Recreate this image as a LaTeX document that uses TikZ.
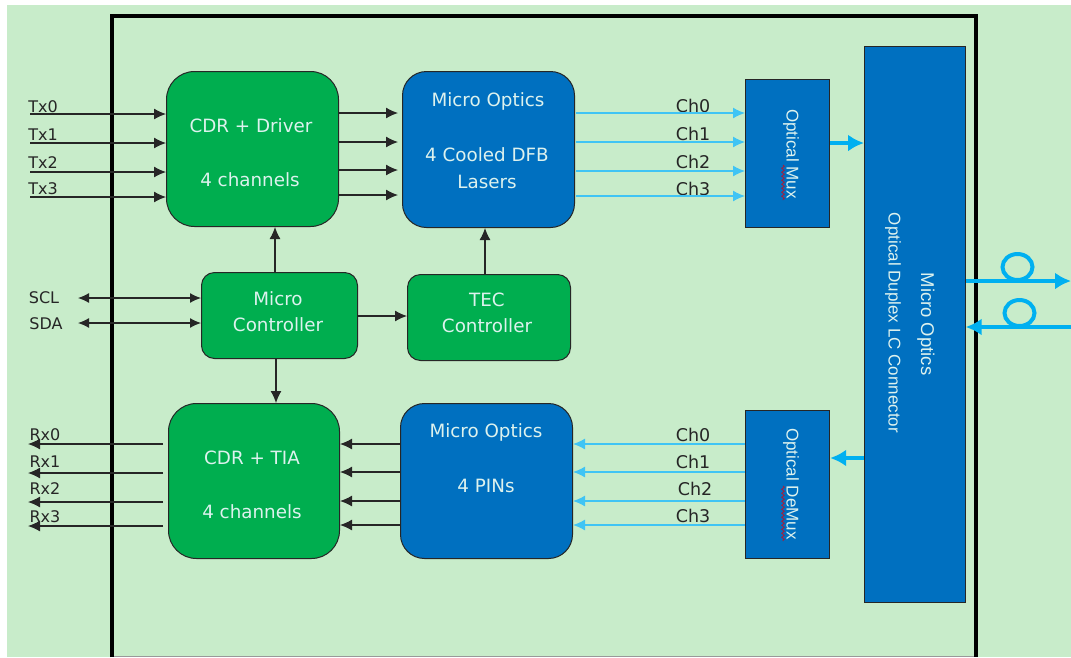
\documentclass[tikz,border=0pt]{standalone}
\usepackage{fontspec}
\setmainfont{DejaVu Sans}
\newfontfamily\rotfont{Liberation Sans}
\usetikzlibrary{arrows.meta,decorations.pathmorphing}
\definecolor{bgg}{HTML}{C8ECCA}
\definecolor{grn}{HTML}{00AE4F}
\definecolor{blu}{HTML}{0070C0}
\definecolor{cyn}{HTML}{00B0F0}
\definecolor{txtw}{HTML}{DDF2EE}
\definecolor{squig}{HTML}{A02040}
\tikzset{
 x=1pt,y=-1pt,
 block/.style={draw=black!85,line width=1pt,inner sep=0pt,anchor=north west},
 grnr/.style={block,fill=grn},
 blur/.style={block,fill=blu},
 sqbox/.style={draw=black!85,line width=1.2pt,fill=blu,inner sep=0pt,anchor=north west},
 sig/.style={draw=black!85,line width=1.2pt,-{Latex[length=12pt,width=11pt]}},
 sigb/.style={draw=black!85,line width=1.2pt,{Latex[length=11pt,width=10pt]}-{Latex[length=11pt,width=10pt]}},
 chn/.style={draw=cyn!75!white,line width=1.3pt,-{Latex[length=12pt,width=11pt]}},
 fat/.style={draw=cyn,line width=4pt,-{Latex[length=16pt,width=17pt]}},
 lab/.style={inner sep=0pt,text=black!85,font=\fontsize{16}{18}\selectfont},
 chlab/.style={inner sep=0pt,text=black!85,font=\fontsize{17.5}{20}\selectfont},
 wtxt/.style={inner sep=0pt,text=txtw,font=\fontsize{18.3}{20}\selectfont},
 rottxt/.style={rotate=-90,inner sep=0pt,text=txtw,font=\rotfont\fontsize{17}{18}\selectfont},
 wig/.style={draw=squig,line width=.9pt,decorate,decoration={snake,amplitude=1.3pt,segment length=4pt}},
 loopc/.style={draw=cyn,line width=4pt},
}
\begin{document}
\begin{tikzpicture}
\useasboundingbox (0,0) rectangle (1071,657);
\fill[white] (0,0) rectangle (1071,657);
\fill[bgg] (7,5) rectangle (1071,657);
\draw[black!40,line width=1pt] (112,656.2) -- (976,656.2);
\draw[black,line width=3.6pt] (112,657) -- (112,16) -- (976,16) -- (976,657);

% blocks
\node[grnr,rounded corners=28pt,minimum width=172pt,minimum height=155pt] (drv) at (166,71) {};
\node[blur,rounded corners=24pt,minimum width=172pt,minimum height=156pt] (mo1) at (402,71) {};
\node[sqbox,minimum width=84pt,minimum height=148pt] (mux) at (745,79) {};
\node[sqbox,minimum width=100.5pt,minimum height=556pt] (conn) at (864,46) {};
\node[grnr,rounded corners=13pt,minimum width=156pt,minimum height=86pt] (mc) at (201,272) {};
\node[grnr,rounded corners=13pt,minimum width=163pt,minimum height=86pt] (tec) at (407,274) {};
\node[grnr,rounded corners=28pt,minimum width=171pt,minimum height=155pt] (tia) at (168,403) {};
\node[blur,rounded corners=24pt,minimum width=172pt,minimum height=155pt] (mo2) at (400,403) {};
\node[sqbox,minimum width=84pt,minimum height=148pt] (dmx) at (745,410) {};

% block texts
\foreach \n/\t/\xx/\yy in {a1/CDR + Driver/251/126,a2/4 channels/250/180,
  b1/Micro Optics/488/101,b2/4 Cooled DFB/487/155,b3/Lasers/487/182,
  c1/Micro/278/299,c2/Controller/278/325,
  d1/TEC/487/300,d2/Controller/487/326,
  e1/CDR + TIA/252/458,e2/4 channels/252/512,
  f1/Micro Optics/486/432,f2/4 PINs/486/486}
  \node[wtxt] (\n) at (\xx,\yy) {\t};

% rotated texts
\node[rottxt] (tmux) at (791,154) {Optical Mux};
\node[rottxt] (tdmx) at (791,484) {Optical DeMux};
\node[rottxt,font=\rotfont\fontsize{18.5}{20}\selectfont] (tc1) at (926,324) {Micro Optics};
\node[rottxt] (tc2) at (893,323) {Optical Duplex LC Connector};
\coordinate (w1a) at (783,165); \coordinate (w1b) at (783,200);
\coordinate (w2a) at (783,486); \coordinate (w2b) at (783,541);
\draw[wig] (w1a) -- (w1b);
\draw[wig] (w2a) -- (w2b);

% labels
\foreach \n/\t/\xx/\yy in {ltx0/Tx0/43/107,ltx1/Tx1/43/135,ltx2/Tx2/43/163,ltx3/Tx3/43/189,
  lrx0/Rx0/45/435,lrx1/Rx1/45/462,lrx2/Rx2/45/489,lrx3/Rx3/45/517,
  lscl/SCL/44/298,lsda/SDA/46/324}
  \node[lab] (\n) at (\xx,\yy) {\t};
\foreach \n/\t/\xx/\yy in {cha0/Ch0/693/106,cha1/Ch1/693/134,cha2/Ch2/693/162,cha3/Ch3/693/189,
  chb0/Ch0/693/435,chb1/Ch1/693/462,chb2/Ch2/695/489,chb3/Ch3/693/516}
  \node[chlab] (\n) at (\xx,\yy) {\t};

% Tx inputs
\foreach \i/\yy in {0/114,1/143,2/172,3/197}{
  \coordinate (txs\i) at (30,\yy);
  \draw[sig] (txs\i) -- (drv.west |- txs\i);
}
% driver to lasers
\foreach \i/\yy in {0/113,1/142,2/170,3/195}{
  \coordinate (dr\i) at (338,\yy);
  \draw[sig] (dr\i) -- (398,\yy);
}
% lasers to mux
\foreach \i/\yy in {0/113,1/142,2/171,3/196}{
  \coordinate (ch\i) at (576,\yy);
  \draw[chn] (ch\i) -- (mux.west |- ch\i);
}
% demux to pins
\foreach \i/\yy in {0/444,1/472,2/501,3/525}{
  \coordinate (cr\i) at (745,\yy);
  \draw[chn] (cr\i) -- (mo2.east |- cr\i);
}
% pins to tia
\foreach \i/\yy in {0/444,1/472,2/501,3/525}{
  \coordinate (pr\i) at (400,\yy);
  \draw[sig] (pr\i) -- (tia.east |- pr\i);
}
% Rx outputs
\foreach \i/\yy in {0/444,1/473,2/502,3/526}{
  \coordinate (rxe\i) at (28,\yy);
  \coordinate (rxs\i) at (163,\yy);
  \draw[sig] (rxs\i) -- (rxe\i);
}
% control
\coordinate (sc) at (78,298); \coordinate (sd) at (78,323);
\draw[sigb] (sc) -- (mc.west |- sc);
\draw[sigb] (sd) -- (mc.west |- sd);
\coordinate (mt) at (357,316);
\draw[sig] (mc.east |- mt) -- (tec.west |- mt);
\coordinate (mu) at (275,272);
\draw[sig] (mc.north -| mu) -- (drv.south -| mu);
\coordinate (tu) at (485,274);
\draw[sig] (tec.north -| tu) -- (mo1.south -| tu);
\coordinate (md) at (276,358);
\draw[sig] (mc.south -| md) -- (tia.north -| md);

% fat arrows
\coordinate (fa) at (829,143);
\draw[fat] (mux.east |- fa) -- (conn.west |- fa);
\coordinate (fb) at (864,458);
\draw[fat] (conn.west |- fb) -- (dmx.east |- fb);
\coordinate (fo1) at (1071,281); \coordinate (fi1) at (1071,327);
\draw[fat] (conn.east |- fo1) -- (fo1);
\draw[fat] (fi1) -- (conn.east |- fi1);
\coordinate (lp1) at (1017.5,267); \coordinate (lp2) at (1019.5,313);
\draw[loopc] (lp1) ellipse[x radius=15pt,y radius=13pt];
\draw[loopc] (lp2) ellipse[x radius=15pt,y radius=13pt];
\end{tikzpicture}
\end{document}
